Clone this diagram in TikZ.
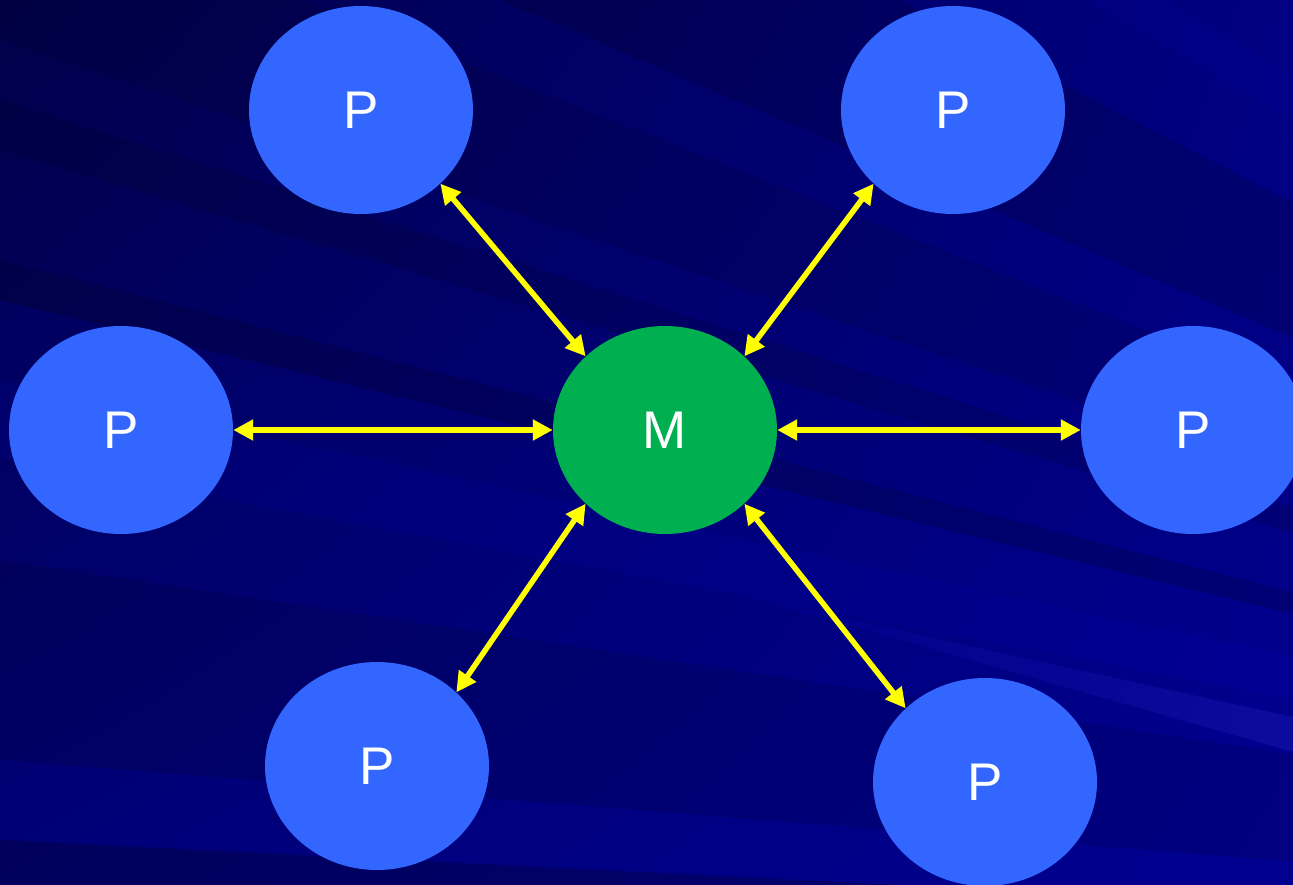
\documentclass[tikz,border=0pt]{standalone}
\usepackage{fontspec}
\setmainfont{Liberation Sans}
\usetikzlibrary{shapes.geometric,arrows.meta,shadings}
\definecolor{pblue}{HTML}{3366FF}
\definecolor{mgreen}{HTML}{00B050}
\definecolor{ayellow}{HTML}{FFFF00}
\definecolor{cul}{HTML}{00004A}
\definecolor{cur}{HTML}{000082}
\definecolor{cll}{HTML}{000072}
\definecolor{clr}{HTML}{00008C}
\definecolor{lightb}{HTML}{0000D0}
\definecolor{streakb}{HTML}{0E0EA0}
\tikzset{
  pnode/.style={ellipse, fill=pblue, minimum width=224pt, minimum height=208pt, inner sep=0pt,
    text=white, font=\fontsize{53}{60}\selectfont},
  mnode/.style={pnode, fill=mgreen},
  link/.style={draw=ayellow, line width=5.5pt, {Triangle[length=20pt,width=20pt]}-{Triangle[length=20pt,width=20pt]}},
  darkband/.style={fill=black, fill opacity=#1},
  lightband/.style={fill=lightb, fill opacity=#1},
}
\begin{document}
\begin{tikzpicture}[x=1pt,y=-1pt]
\useasboundingbox (0,0) rectangle (1293,884);
\clip (0,0) rectangle (1293,884);
% background base gradient
\shade[upper left=cul, upper right=cur, lower left=cll, lower right=clr] (0,0) rectangle (1293,884);
% fan of streaks converging towards a far point at the lower right
\coordinate (F) at (2800,980);
\fill[darkband=0.14] (F) -- (0,-464) -- (0,-213) -- cycle;
\fill[darkband=0.10] (F) -- (0,-120) -- (0,40) -- cycle;
\fill[darkband=0.12] (F) -- (0,100) -- (0,150) -- cycle;
\fill[darkband=0.14] (F) -- (0,260) -- (0,300) -- cycle;
\fill[lightband=0.06] (F) -- (0,300) -- (0,380) -- cycle;
\fill[lightband=0.14] (F) -- (0,380) -- (0,457) -- cycle;
\fill[lightband=0.05] (F) -- (0,457) -- (0,560) -- cycle;
\fill[darkband=0.08] (F) -- (0,560) -- (0,760) -- cycle;
\fill[lightband=0.07] (F) -- (0,760) -- (0,840) -- cycle;
\fill[darkband=0.18] (F) -- (0,840) -- (0,1000) -- cycle;
\fill[lightband=0.08] (F) -- (0,-700) -- (0,-620) -- cycle;
\fill[lightband=0.12] (F) -- (0,-900) -- (0,-860) -- cycle;
\fill[lightband=0.10] (F) -- (0,-1050) -- (0,-990) -- cycle;
% light streak at the lower right
\shade[left color=clr, right color=streakb, fill opacity=0.85] (760,600) -- (1293,717) -- (1293,752) -- cycle;
% nodes
\node[mnode] (m) at (665,430) {M};
\node[pnode] (tl) at (361,110) {P};
\node[pnode] (tr) at (953,110) {P};
\node[pnode] (l) at (121,430) {P};
\node[pnode] (r) at (1193,430) {P};
\node[pnode] (bl) at (377,766) {P};
\node[pnode] (br) at (985,782) {P};
% links
\draw[link] (tl.south east) -- (m.north west);
\draw[link] (tr.south west) -- (m.north east);
\draw[link] (l.east) -- (m.west);
\draw[link] (m.east) -- (r.west);
\draw[link] (bl.north east) -- (m.south west);
\draw[link] (m.south east) -- (br.north west);
\end{tikzpicture}
\end{document}
